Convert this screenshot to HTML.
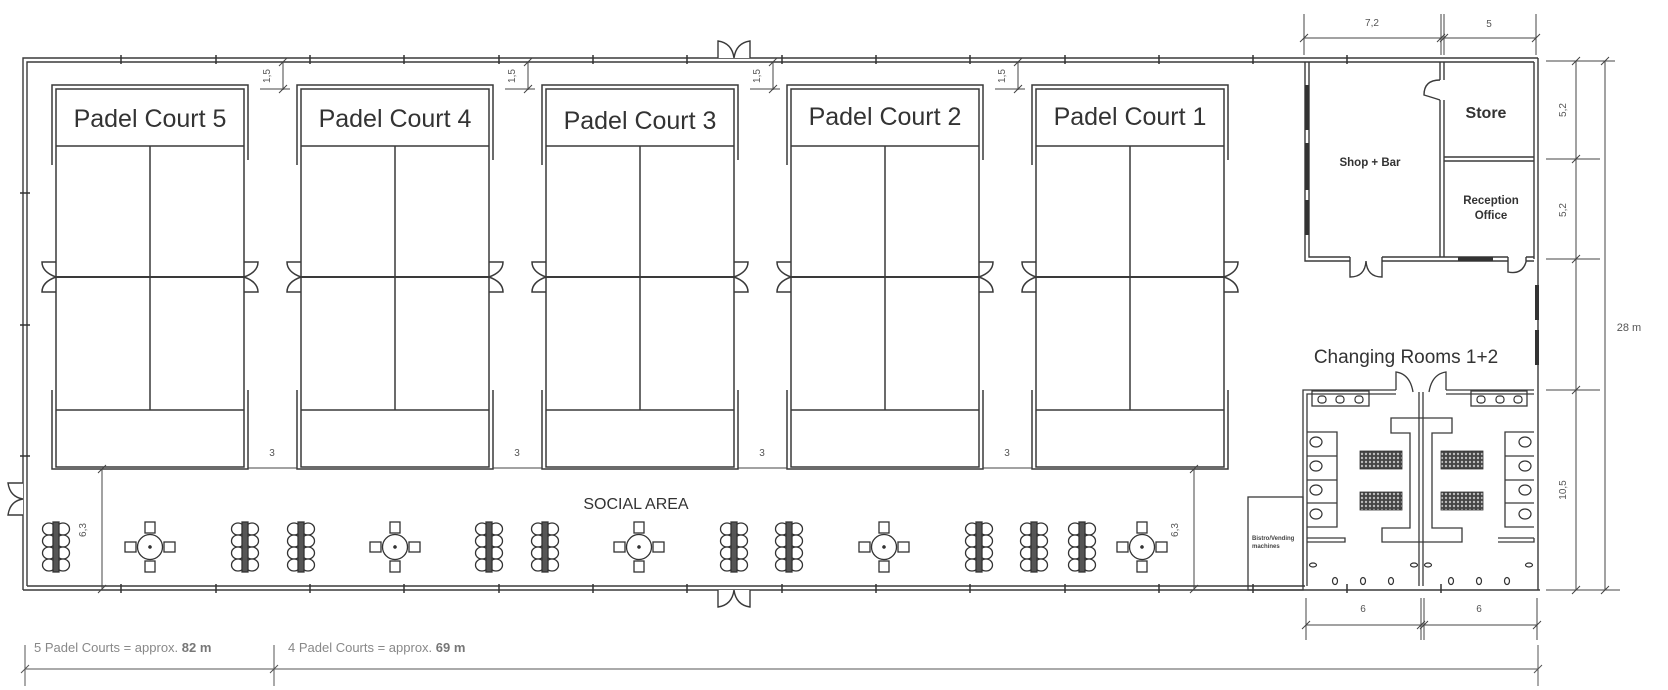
<!DOCTYPE html>
<html><head><meta charset="utf-8"><style>
html,body{margin:0;padding:0;background:#fff;}
svg{display:block;font-family:"Liberation Sans",sans-serif;}
</style></head><body>
<svg width="1668" height="690" viewBox="0 0 1668 690" xmlns="http://www.w3.org/2000/svg">
<defs>
<g id="court" fill="none" stroke="#3a3a3a" stroke-width="1.5">
  <path d="M0,165 V85 H196 V160"/>
  <path d="M4,467 V89 H192 V467 Z"/>
  <line x1="4" y1="146" x2="192" y2="146"/>
  <line x1="98" y1="146" x2="98" y2="410"/>
  <line x1="4" y1="410" x2="192" y2="410"/>
  <line x1="4" y1="277" x2="192" y2="277" stroke-width="2"/>
  <path d="M0,390 V469 H196 V390"/>
  <path d="M4,262 H-10 Q-10,272 4,277 Q-10,282 -10,292 H4"/>
  <path d="M192,262 H206 Q206,272 192,277 Q206,282 206,292 H192"/>
</g>
<g id="ltable" stroke="#333" stroke-width="1.3" fill="#fff">
  <ellipse cx="-7" cy="-18" rx="6.5" ry="6"/><ellipse cx="-7" cy="-6" rx="6.5" ry="6"/><ellipse cx="-7" cy="6" rx="6.5" ry="6"/><ellipse cx="-7" cy="18" rx="6.5" ry="6"/>
  <ellipse cx="7" cy="-18" rx="6.5" ry="6"/><ellipse cx="7" cy="-6" rx="6.5" ry="6"/><ellipse cx="7" cy="6" rx="6.5" ry="6"/><ellipse cx="7" cy="18" rx="6.5" ry="6"/>
  <rect x="-3" y="-25" width="6" height="50" fill="#555"/>
</g>
<g id="rtable" stroke="#333" stroke-width="1.3" fill="#fff">
  <rect x="-5" y="-25" width="10" height="11"/><rect x="-5" y="14" width="10" height="11"/>
  <rect x="-25" y="-5" width="11" height="10"/><rect x="14" y="-5" width="11" height="10"/>
  <circle r="12.5"/><circle r="1.2" fill="#333"/>
</g>
<pattern id="hatch" width="4" height="4" patternUnits="userSpaceOnUse"><rect width="4" height="4" fill="#444"/><circle cx="2" cy="2" r="1.2" fill="#bbb"/></pattern>
</defs>

<!-- outer walls -->
<g fill="none" stroke="#3a3a3a" stroke-width="1.4">
  <path d="M23,590 V58 H1538"/>
  <path d="M27,586 V62 H1534"/>
  <path d="M23,590 H1540 M27,586 H1305"/>
  <path d="M1538,58 V590 M1534,62 V259"/>
</g>
<!-- wall posts -->
<g stroke="#333" stroke-width="1.5">
  <line x1="121" y1="55" x2="121" y2="64"/><line x1="216" y1="55" x2="216" y2="64"/><line x1="310" y1="55" x2="310" y2="64"/><line x1="404" y1="55" x2="404" y2="64"/><line x1="499" y1="55" x2="499" y2="64"/><line x1="593" y1="55" x2="593" y2="64"/><line x1="687" y1="55" x2="687" y2="64"/><line x1="782" y1="55" x2="782" y2="64"/><line x1="876" y1="55" x2="876" y2="64"/><line x1="970" y1="55" x2="970" y2="64"/><line x1="1065" y1="55" x2="1065" y2="64"/><line x1="1159" y1="55" x2="1159" y2="64"/><line x1="1253" y1="55" x2="1253" y2="64"/><line x1="1347" y1="55" x2="1347" y2="64"/>
  <line x1="20" y1="193" x2="30" y2="193"/><line x1="20" y1="325" x2="30" y2="325"/><line x1="20" y1="456" x2="30" y2="456"/>
  <line x1="121" y1="584" x2="121" y2="593"/><line x1="216" y1="584" x2="216" y2="593"/><line x1="310" y1="584" x2="310" y2="593"/><line x1="404" y1="584" x2="404" y2="593"/><line x1="499" y1="584" x2="499" y2="593"/><line x1="593" y1="584" x2="593" y2="593"/><line x1="687" y1="584" x2="687" y2="593"/><line x1="782" y1="584" x2="782" y2="593"/><line x1="876" y1="584" x2="876" y2="593"/><line x1="970" y1="584" x2="970" y2="593"/><line x1="1065" y1="584" x2="1065" y2="593"/><line x1="1159" y1="584" x2="1159" y2="593"/><line x1="1253" y1="584" x2="1253" y2="593"/><line x1="1347" y1="584" x2="1347" y2="593"/><line x1="1441" y1="584" x2="1441" y2="593"/>
</g>
<!-- doors in outer walls -->
<g fill="#fff" stroke="#3a3a3a" stroke-width="1.4">
  <path d="M718,58 V41 Q732,43 734,58 Q736,43 750,41 V58"/>
  <path d="M718,590 V607 Q732,605 734,590 Q736,605 750,607 V590"/>
  <path d="M23,483 H8 Q10,497 23,499 Q10,501 8,515 H23"/>
</g>

<!-- courts -->
<use href="#court" x="52"/><use href="#court" x="297"/><use href="#court" x="542"/><use href="#court" x="787"/><use href="#court" x="1032"/>
<g font-size="25" fill="#333" text-anchor="middle">
  <text x="150" y="127">Padel Court 5</text>
  <text x="395" y="127">Padel Court 4</text>
  <text x="640" y="129">Padel Court 3</text>
  <text x="885" y="125">Padel Court 2</text>
  <text x="1130" y="125">Padel Court 1</text>
</g>
<!-- 1,5 dims -->
<g stroke="#444" stroke-width="1" fill="none">
  <path d="M283,62 V90 M260,89 H290 M279,66 L287,58 M279,93 L287,85"/>
  <path d="M528,62 V90 M505,89 H535 M524,66 L532,58 M524,93 L532,85"/>
  <path d="M773,62 V90 M750,89 H780 M769,66 L777,58 M769,93 L777,85"/>
  <path d="M1018,62 V90 M995,89 H1025 M1014,66 L1022,58 M1014,93 L1022,85"/>
</g>
<g font-size="10" fill="#555" text-anchor="middle">
  <text transform="translate(270,76) rotate(-90)">1,5</text>
  <text transform="translate(515,76) rotate(-90)">1,5</text>
  <text transform="translate(760,76) rotate(-90)">1,5</text>
  <text transform="translate(1005,76) rotate(-90)">1,5</text>
  <text x="272" y="456">3</text><text x="517" y="456">3</text><text x="762" y="456">3</text><text x="1007" y="456">3</text>
</g>
<g stroke="#444" stroke-width="1">
  <line x1="248" y1="468" x2="297" y2="468"/><line x1="493" y1="468" x2="542" y2="468"/><line x1="738" y1="468" x2="787" y2="468"/><line x1="983" y1="468" x2="1032" y2="468"/>
</g>

<!-- social area -->
<g stroke="#444" stroke-width="1" fill="none">
  <path d="M102,469 V589 M98,473 L106,465 M98,593 L106,585"/>
  <path d="M1194,469 V589 M1190,473 L1198,465 M1190,593 L1198,585"/>
</g>
<text x="86" y="530" font-size="10" fill="#555" text-anchor="middle" transform="rotate(-90 86 530)">6,3</text>
<text x="1178" y="530" font-size="10" fill="#555" text-anchor="middle" transform="rotate(-90 1178 530)">6,3</text>
<text x="636" y="509" font-size="16" fill="#333" text-anchor="middle">SOCIAL AREA</text>
<use href="#ltable" x="56" y="547"/><use href="#ltable" x="245" y="547"/><use href="#ltable" x="301" y="547"/>
<use href="#ltable" x="489" y="547"/><use href="#ltable" x="545" y="547"/><use href="#ltable" x="734" y="547"/>
<use href="#ltable" x="789" y="547"/><use href="#ltable" x="979" y="547"/><use href="#ltable" x="1034" y="547"/><use href="#ltable" x="1082" y="547"/>
<use href="#rtable" x="150" y="547"/><use href="#rtable" x="395" y="547"/><use href="#rtable" x="639" y="547"/><use href="#rtable" x="884" y="547"/><use href="#rtable" x="1142" y="547"/>

<!-- shop / store / reception -->
<g fill="none" stroke="#3a3a3a" stroke-width="1.4">
  <path d="M1305,62 V261 H1350 M1382,261 H1508 M1526,261 H1534"/>
  <path d="M1309,62 V257 H1350 M1382,257 H1508 M1526,257 H1534"/>
  <path d="M1440,62 V80 M1444,62 V80 M1440,100 V257 M1444,100 V257"/>
  <path d="M1444,157 H1534 M1444,161 H1534"/>
  <path d="M1440,80 Q1424,80 1424,95 Q1434,98 1440,100"/>
  <path d="M1350,257 V277 Q1365,277 1366,261 Q1367,277 1382,277 V257"/>
  <path d="M1508,257 V272 Q1522,275 1526,262 V257"/>
</g>
<g stroke="#333" stroke-width="4">
  <line x1="1307" y1="85" x2="1307" y2="130"/><line x1="1307" y1="143" x2="1307" y2="190"/><line x1="1307" y1="200" x2="1307" y2="235"/>
  <line x1="1458" y1="259" x2="1493" y2="259"/>
  <line x1="1537" y1="285" x2="1537" y2="320"/><line x1="1537" y1="330" x2="1537" y2="365"/>
</g>
<g fill="#333" font-weight="bold" text-anchor="middle">
  <text x="1370" y="166" font-size="11.5">Shop + Bar</text>
  <text x="1486" y="118" font-size="16">Store</text>
  <text x="1491" y="204" font-size="11.5">Reception</text>
  <text x="1491" y="219" font-size="11.5">Office</text>
</g>
<!-- top dims -->
<g stroke="#444" stroke-width="1" fill="none">
  <path d="M1304,14 V55 M1441,14 V55 M1444,14 V55 M1536,14 V55 M1304,38 H1536"/>
  <path d="M1300,42 L1308,34 M1437,42 L1445,34 M1440,42 L1448,34 M1532,42 L1540,34"/>
  <path d="M1546,61 H1615 M1546,159 H1600 M1546,259 H1600 M1546,390 H1600 M1546,590 H1620"/>
  <path d="M1576,61 V590 M1605,61 V590"/>
  <path d="M1572,65 L1580,57 M1572,163 L1580,155 M1572,263 L1580,255 M1572,394 L1580,386 M1572,594 L1580,586 M1601,65 L1609,57 M1601,594 L1609,586"/>
</g>
<g font-size="10" fill="#555" text-anchor="middle">
  <text x="1372" y="26">7,2</text>
  <text x="1489" y="27">5</text>
  <text transform="translate(1566,110) rotate(-90)">5,2</text>
  <text transform="translate(1566,210) rotate(-90)">5,2</text>
  <text transform="translate(1566,490) rotate(-90)">10,5</text>
  <text x="1629" y="331" font-size="11">28 m</text>
  <text x="1363" y="612">6</text>
  <text x="1479" y="612">6</text>
</g>

<!-- changing rooms -->
<text x="1406" y="363" font-size="19" fill="#333" text-anchor="middle">Changing Rooms 1+2</text>
<g fill="none" stroke="#3a3a3a" stroke-width="1.3">
  <path d="M1303,586 V390 H1396 M1307,586 V394 H1396"/>
  <path d="M1419,586 V392 M1423,586 V392"/>
  <path d="M1446,390 H1534 M1446,394 H1534"/>
  <path d="M1396,390 V372 Q1410,374 1413,392"/>
  <path d="M1446,390 V372 Q1432,374 1429,392"/>
  <rect x="1312" y="391" width="57" height="15"/>
  <rect x="1471" y="391" width="56" height="15"/>
  <path d="M1307,432 H1337 V527 H1307 M1307,456 H1337 M1307,480 H1337 M1307,503 H1337"/>
  <path d="M1534,432 H1505 V527 H1534 M1505,456 H1534 M1505,480 H1534 M1505,503 H1534"/>
  <path d="M1391,418 H1452 V433 H1432 V528 H1462 V542 H1382 V528 H1410 V433 H1391 Z"/>
  <path d="M1307,538 H1345 V542 H1307 M1498,538 H1534 M1498,542 H1534 V538"/>
  <rect x="1248" y="497" width="55" height="93"/>
</g>
<g fill="#fff" stroke="#333" stroke-width="1.2">
  <rect x="1318" y="396" width="8" height="7" rx="3"/><rect x="1336" y="396" width="8" height="7" rx="3"/><rect x="1355" y="396" width="8" height="7" rx="3"/>
  <rect x="1477" y="396" width="8" height="7" rx="3"/><rect x="1496" y="396" width="8" height="7" rx="3"/><rect x="1514" y="396" width="8" height="7" rx="3"/>
  <ellipse cx="1316" cy="442" rx="6" ry="5"/><ellipse cx="1316" cy="466" rx="6" ry="5"/><ellipse cx="1316" cy="490" rx="6" ry="5"/><ellipse cx="1316" cy="514" rx="6" ry="5"/>
  <ellipse cx="1525" cy="442" rx="6" ry="5"/><ellipse cx="1525" cy="466" rx="6" ry="5"/><ellipse cx="1525" cy="490" rx="6" ry="5"/><ellipse cx="1525" cy="514" rx="6" ry="5"/>
  <ellipse cx="1335" cy="581" rx="2.5" ry="3.5"/><ellipse cx="1363" cy="581" rx="2.5" ry="3.5"/><ellipse cx="1391" cy="581" rx="2.5" ry="3.5"/>
  <ellipse cx="1451" cy="581" rx="2.5" ry="3.5"/><ellipse cx="1479" cy="581" rx="2.5" ry="3.5"/><ellipse cx="1507" cy="581" rx="2.5" ry="3.5"/>
  <ellipse cx="1313" cy="565" rx="3.5" ry="2"/><ellipse cx="1414" cy="565" rx="3.5" ry="2"/><ellipse cx="1428" cy="565" rx="3.5" ry="2"/><ellipse cx="1529" cy="565" rx="3.5" ry="2"/>
</g>
<g fill="url(#hatch)" stroke="#333" stroke-width="0.8">
  <rect x="1360" y="451" width="42" height="18"/><rect x="1360" y="492" width="42" height="18"/>
  <rect x="1441" y="451" width="42" height="18"/><rect x="1441" y="492" width="42" height="18"/>
</g>
<g font-size="6" font-weight="bold" fill="#444">
  <text x="1252" y="540">Bistro/Vending</text>
  <text x="1252" y="548">machines</text>
</g>
<!-- bottom room dims -->
<g stroke="#444" stroke-width="1" fill="none">
  <path d="M1306,598 V640 M1421,598 V640 M1424,598 V640 M1537,598 V640 M1306,625 H1537"/>
  <path d="M1302,629 L1310,621 M1417,629 L1425,621 M1420,629 L1428,621 M1533,629 L1541,621"/>
</g>

<!-- bottom overall dims -->
<g stroke="#555" stroke-width="1" fill="none">
  <path d="M25,645 V686 M274,645 V686 M1538,645 V686 M25,669 H1538"/>
  <path d="M21,673 L29,665 M270,673 L278,665 M1534,673 L1542,665"/>
</g>
<g font-size="13" fill="#888">
  <text x="34" y="652">5 Padel Courts = approx. <tspan font-weight="bold" fill="#777">82 m</tspan></text>
  <text x="288" y="652">4 Padel Courts = approx.  <tspan font-weight="bold" fill="#777">69 m</tspan></text>
</g>
</svg>
</body></html>
